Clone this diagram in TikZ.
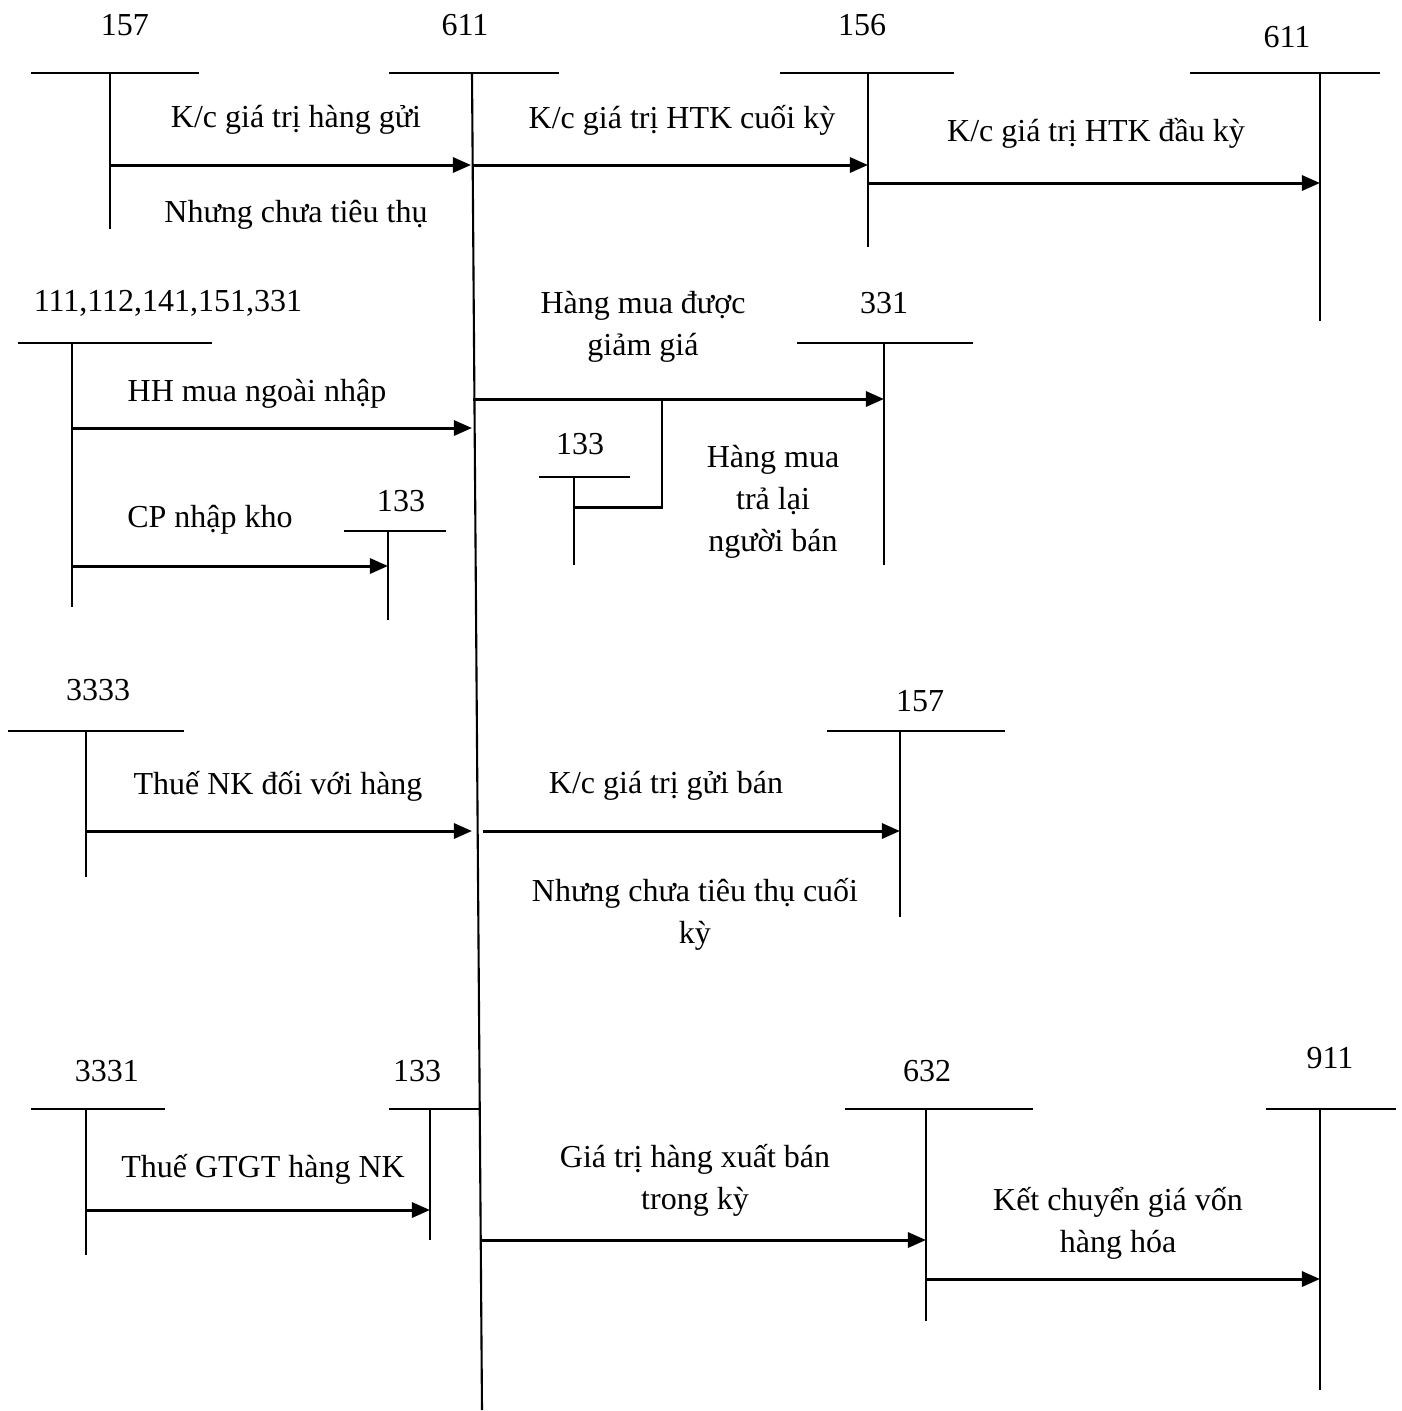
\documentclass[tikz,border=0pt]{standalone}
\usepackage{fontspec}
\setmainfont{Liberation Serif}
\usetikzlibrary{positioning,calc,arrows.meta}

\begin{document}
\begin{tikzpicture}[
  x=0.01cm, y=-0.01cm,
  font=\fontsize{9.1}{12}\selectfont,
  >={Triangle[length=1.8mm,width=1.5mm]},
  tline/.style={line width=0.6pt},
  flow/.style={->, line width=0.85pt},
  branch/.style={line width=0.85pt},
  acct/.style={inner sep=0pt},
  note/.style={inner sep=0pt, align=center, yshift=-0.85pt},
]
\useasboundingbox (0,0) rectangle (1402,1411);

% --- account 611 (main, runs down the whole sheet) -------------------
\node[acct] (n611) at (465,25) {611};
\draw[tline] (389,73) -- (559,73);
\draw[tline] (472,73) coordinate (t611) -- (482,1410) coordinate (b611);
\coordinate (p611a) at (471,165);
\coordinate (q611a) at (473,165);
\coordinate (p611b) at (472,428);
\coordinate (q611b) at (473,399);
\coordinate (p611c) at (472,831);
\coordinate (q611c) at (483,831);
\coordinate (q611d) at (481,1240);

% --- top row: 157, 156, 611 -----------------------------------------
\node[acct] (n157a) at (125,25) {157};
\draw[tline] (31,73) -- (199,73);
\draw[tline] (110,73) coordinate (v157a) -- (110,229);

\node[acct] (n156) at (862,25) {156};
\draw[tline] (780,73) -- (954,73);
\draw[tline] (868,73) coordinate (v156) -- (868,247);

\node[acct] (n611b) at (1287,37) {611};
\draw[tline] (1190,73) -- (1380,73);
\draw[tline] (1320,73) coordinate (v611b) -- (1320,321);

\draw[flow] (v157a |- 0,165) -- (p611a);
\node[note] (k1) at (296,117) {K/c giá trị hàng gửi};
\node[note] (k2) at (296,212) {Nhưng chưa tiêu thụ};

\draw[flow] (q611a) -- (v156 |- 0,165);
\node[note] (k3) at (682,117) {K/c giá trị HTK cuối kỳ};

\draw[flow] (v156 |- 0,183) -- (v611b |- 0,183);
\node[note] (k4) at (1096,130) {K/c giá trị HTK đầu kỳ};

% --- purchases: 111..331, 133, 331 ----------------------------------
\node[acct] (n111) at (168,303) {111,112,141,151,331};
\draw[tline] (18,343) -- (212,343);
\draw[tline] (72,343) coordinate (v111) -- (72,607);

\node[acct] (n133a) at (401,501) {133};
\draw[tline] (344,531) -- (446,531);
\draw[tline] (388,531) coordinate (v133a) -- (388,620);

\draw[flow] (v111 |- 0,428) -- (p611b);
\node[note] (h1) at (257,391) {HH mua ngoài nhập};

\draw[flow] (v111 |- 0,566) -- (v133a |- 0,566);
\node[note] (h2) at (210,517) {CP nhập kho};

\node[acct] (n331) at (884,303) {331};
\draw[tline] (797,343) -- (973,343);
\draw[tline] (884,343) coordinate (v331) -- (884,565);

\node[acct] (n133b) at (580,444) {133};
\draw[tline] (539,477) -- (630,477);
\draw[tline] (574,477) coordinate (v133b) -- (574,565);

\draw[flow] (q611b) -- (v331 |- 0,399);
\coordinate (j1) at (662,399);
\draw[branch] (j1) |- (v133b |- 0,507);
\node[note] (h3) at (643,324) {Hàng mua được\\giảm giá};
\node[note] (h4) at (773,499) {Hàng mua\\trả lại\\người bán};

% --- import duty: 3333, 157 -----------------------------------------
\node[acct] (n3333) at (98,690) {3333};
\draw[tline] (8,731) -- (184,731);
\draw[tline] (86,731) coordinate (v3333) -- (86,877);

\node[acct] (n157b) at (920,701) {157};
\draw[tline] (827,731) -- (1005,731);
\draw[tline] (900,731) coordinate (v157b) -- (900,917);

\draw[flow] (v3333 |- 0,831) -- (p611c);
\node[note] (d1) at (278,783) {Thuế NK đối với hàng};

\draw[flow] (q611c) -- (v157b |- 0,831);
\node[note] (d2) at (666,783) {K/c giá trị gửi bán};
\node[note] (d3) at (695,911) {Nhưng chưa tiêu thụ cuối\\kỳ};

% --- bottom row: 3331, 133, 632, 911 --------------------------------
\node[acct] (n3331) at (107,1071) {3331};
\draw[tline] (31,1109) -- (165,1109);
\draw[tline] (86,1109) coordinate (v3331) -- (86,1255);

\node[acct] (n133c) at (417,1071) {133};
\draw[tline] (389,1109) -- (481,1109);
\draw[tline] (430,1109) coordinate (v133c) -- (430,1240);

\node[acct] (n632) at (927,1071) {632};
\draw[tline] (845,1109) -- (1033,1109);
\draw[tline] (926,1109) coordinate (v632) -- (926,1321);

\node[acct] (n911) at (1330,1058) {911};
\draw[tline] (1266,1109) -- (1396,1109);
\draw[tline] (1320,1109) coordinate (v911) -- (1320,1390);

\draw[flow] (v3331 |- 0,1210) -- (v133c |- 0,1210);
\node[note] (g1) at (263,1166) {Thuế GTGT hàng NK};

\draw[flow] (q611d) -- (v632 |- 0,1240);
\node[note] (g2) at (695,1177) {Giá trị hàng xuất bán\\trong kỳ};

\draw[flow] (v632 |- 0,1279) -- (v911 |- 0,1279);
\node[note] (g3) at (1118,1220) {Kết chuyển giá vốn\\hàng hóa};

\end{tikzpicture}
\end{document}
